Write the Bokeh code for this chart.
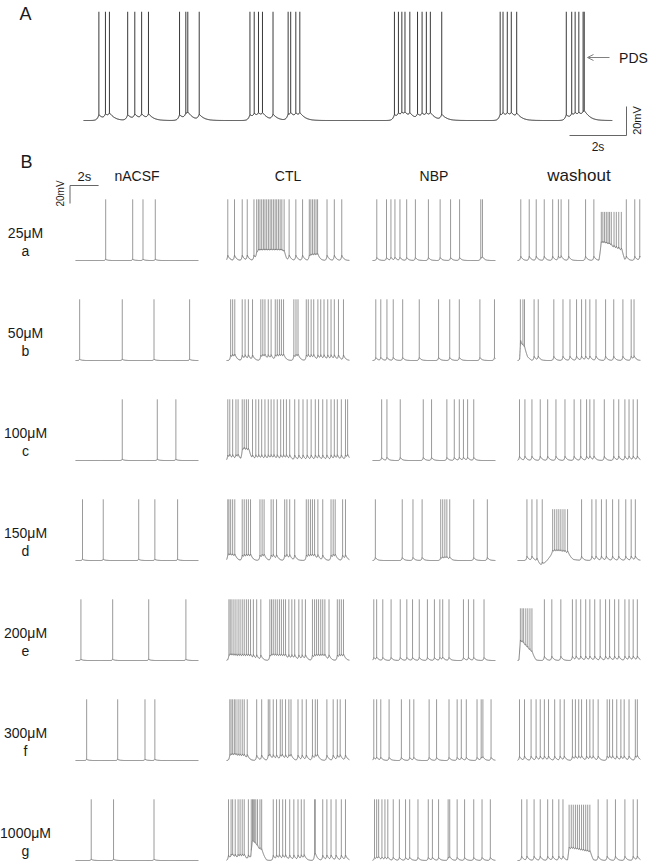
import numpy as np
from bokeh.plotting import figure
from bokeh.models import Range1d, Arrow, OpenHead, Label
from bokeh.embed import file_html
from bokeh.resources import INLINE

# ---------------- data ----------------
conditions = ["nACSF", "CTL", "NBP", "washout"]
concentrations = ["25μM", "50μM", "100μM", "150μM", "200μM", "300μM", "1000μM"]
row_letters = ["a", "b", "c", "d", "e", "f", "g"]

# Panel A: spike times (s)
spikes_A = [0.54, 0.77, 0.91, 1.55, 1.80, 2.04, 2.28, 3.37, 3.59, 3.66, 4.06,
            5.84, 5.99, 6.14, 6.28, 6.65, 7.18, 7.27, 7.45, 7.59,
            10.91, 11.05, 11.17, 11.28, 11.45, 11.72, 11.88, 12.03, 12.17, 12.57,
            14.62, 14.72, 14.87, 15.01, 15.20, 16.94, 17.13, 17.25, 17.38, 17.53, 17.57]

# Panel B: spike times (s) for each concentration row and condition
a_nacsf = [2.11, 4.00, 4.72, 5.58]
a_ctl = [0.09, 0.56, 1.10, 1.45, 1.92, 2.11, 2.23, 2.34, 2.46, 2.58, 2.69, 2.81, 2.93, 3.05, 3.16,
         3.28, 3.40, 3.51, 3.63, 3.75, 3.87, 4.03, 4.38, 4.85, 5.32, 5.79, 5.90, 6.02, 6.14, 6.26,
         6.37, 7.03, 7.54, 8.06]
a_nbp = [0.30, 0.98, 1.29, 1.57, 1.92, 2.39, 3.00, 3.91, 4.73, 5.46, 6.09, 7.57, 7.69]
a_wash = [0.23, 0.82, 1.31, 1.87, 2.46, 2.86, 3.05, 3.58, 4.76, 5.34, 5.86, 5.97, 6.09, 6.21, 6.33,
          6.44, 6.56, 6.75, 6.91, 7.08, 7.26, 7.61, 8.20, 8.55]

b_nacsf = [0.29, 3.27, 5.49, 7.98]
b_ctl = [0.29, 0.43, 0.58, 1.10, 1.30, 1.53, 1.82, 2.40, 2.54, 2.69, 2.92, 3.12, 3.41, 3.55, 3.70,
         3.84, 3.99, 4.71, 4.86, 5.00, 5.58, 5.72, 5.92, 6.10, 6.39, 6.59, 6.82, 7.08, 7.31, 7.54,
         7.83, 8.18]
b_nbp = [0.23, 0.58, 1.01, 1.45, 2.11, 3.27, 4.62, 5.40, 6.07, 7.51, 8.53]
b_wash = [0.20, 0.38, 0.49, 1.16, 1.45, 2.54, 3.18, 3.67, 4.13, 4.48, 4.77, 5.06, 5.49, 6.16, 6.73,
          7.37, 7.95, 8.15]

c_nacsf = [3.27, 5.72, 7.02]
c_ctl = [0.09, 0.23, 0.43, 0.66, 0.81, 1.10, 1.24, 1.39, 1.53, 1.82, 2.05, 2.25, 2.46, 2.69, 2.92,
         3.12, 3.32, 3.55, 3.79, 3.99, 4.19, 4.42, 4.77, 5.06, 5.35, 5.64, 5.92, 6.21, 6.44, 6.73,
         7.02, 7.31, 7.54, 7.75, 8.03, 8.32, 8.47]
c_nbp = [0.64, 1.01, 1.94, 3.55, 4.13, 5.20, 5.72, 6.07, 6.36, 6.65, 7.08]
c_wash = [0.14, 0.52, 1.01, 1.59, 2.11, 2.69, 3.32, 3.96, 4.42, 4.83, 5.06, 5.35, 6.07, 6.73, 7.08,
          7.51, 7.80, 8.09, 8.38]

d_nacsf = [0.49, 1.94, 4.42, 5.55, 7.14]
d_ctl = [0.09, 0.17, 0.29, 0.43, 0.58, 1.10, 1.24, 1.39, 1.53, 1.68, 2.34, 2.49, 2.63, 3.12, 3.27,
         3.50, 4.07, 4.22, 4.42, 4.77, 5.58, 5.72, 5.87, 6.01, 6.16, 6.39, 6.73, 7.31, 7.46, 7.60,
         8.12, 8.32]
d_nbp = [0.20, 2.08, 2.83, 3.47, 4.77, 4.91, 5.06, 5.20, 5.40, 7.08, 8.03]
d_wash = [0.66, 1.01, 1.36, 1.73, 2.46, 2.60, 2.75, 2.89, 3.03, 3.18, 3.32, 3.50, 4.48, 5.20, 5.49,
          5.87, 6.21, 6.65, 7.08, 7.57, 7.95, 8.24]

e_nacsf = [0.38, 2.60, 5.12, 7.72]
e_ctl = [0.17, 0.26, 0.38, 0.52, 0.66, 0.81, 0.95, 1.10, 1.24, 1.39, 1.53, 1.68, 1.88, 2.11, 2.40,
         3.03, 3.15, 3.27, 3.41, 3.55, 3.70, 3.84, 3.99, 4.13, 4.36, 4.57, 4.77, 5.06, 5.29, 5.52,
         6.01, 6.16, 6.30, 6.44, 6.59, 6.73, 6.88, 7.17, 7.75, 7.89, 8.03, 8.18]
e_nbp = [0.09, 0.29, 0.72, 1.30, 1.94, 2.40, 2.80, 3.27, 3.84, 4.33, 4.71, 4.91, 5.35, 6.36, 6.71,
         7.08, 7.80]
e_wash = [0.20, 0.32, 0.43, 0.58, 0.72, 0.87, 1.01, 1.88, 2.40, 3.03, 3.84, 4.10, 4.42, 4.77, 5.06,
          5.40, 5.78, 6.16, 6.44, 6.79, 7.08, 7.51, 7.80, 8.09, 8.38]

f_nacsf = [0.78, 2.95, 4.86, 5.55]
f_ctl = [0.23, 0.32, 0.43, 0.55, 0.66, 0.81, 0.95, 1.10, 1.24, 1.45, 2.11, 2.46, 2.92, 3.03, 3.27,
         3.50, 3.76, 3.90, 4.13, 4.36, 4.51, 5.00, 5.29, 5.58, 6.01, 6.21, 6.36, 7.02, 7.46, 7.75,
         7.95, 8.32]
f_nbp = [0.09, 0.29, 0.58, 1.16, 2.02, 2.60, 2.89, 3.96, 4.48, 5.35, 5.92, 6.21, 6.56, 7.31, 7.60,
         7.72, 8.29]
f_wash = [0.14, 0.49, 0.95, 1.30, 1.59, 1.88, 2.17, 2.60, 2.98, 3.27, 3.84, 4.05, 4.28, 4.48, 4.83,
          5.06, 5.29, 5.64, 6.27, 6.44, 6.65, 6.94, 7.23, 7.46, 7.80, 8.24, 8.38]

g_nacsf = [1.10, 2.66, 5.49]
g_ctl = [0.14, 0.32, 0.43, 0.61, 0.81, 0.95, 1.10, 1.24, 1.53, 1.73, 1.82, 1.88, 1.97, 2.05, 2.17,
         2.34, 2.46, 3.27, 3.50, 3.70, 3.93, 4.13, 4.42, 4.71, 5.00, 5.23, 5.43, 6.16, 6.21, 6.73,
         7.02, 7.31, 7.66, 8.03, 8.32]
g_nbp = [0.14, 0.29, 0.43, 0.66, 0.87, 1.07, 1.45, 1.88, 2.31, 2.60, 3.18, 3.90, 4.19, 4.62, 5.29,
         5.40, 5.92, 6.44, 7.08, 7.66, 8.24]
g_wash = [0.29, 0.66, 1.16, 1.59, 2.11, 2.46, 2.89, 3.18, 3.61, 3.76, 3.90, 4.05, 4.19, 4.33, 4.48,
          4.62, 4.77, 4.91, 5.06, 5.64, 6.27, 6.85, 7.51, 8.09, 8.38]

spike_rows = [
    [a_nacsf, a_ctl, a_nbp, a_wash],
    [b_nacsf, b_ctl, b_nbp, b_wash],
    [c_nacsf, c_ctl, c_nbp, c_wash],
    [d_nacsf, d_ctl, d_nbp, d_wash],
    [e_nacsf, e_ctl, e_nbp, e_wash],
    [f_nacsf, f_ctl, f_nbp, f_wash],
    [g_nacsf, g_ctl, g_nbp, g_wash],
]

# Slow shifts of membrane potential (s, mV)
shift_a_ctl = [(2.0, 0), (2.2, 5), (4.0, 5), (4.2, 0)]
shift_a_wash = [(5.7, 0), (5.85, 16), (7.3, 8), (7.5, 0)]
shift_b_wash = [(0.15, 0), (0.22, 18), (0.7, 3), (1.0, 0)]
shift_c_ctl = [(1.0, 0), (1.15, 8), (1.6, 6), (1.8, 0)]
shift_d_wash = [(1.2, 0), (1.75, -7), (2.4, 7), (3.55, 5), (3.9, 1), (4.5, 0)]
shift_e_wash = [(0.1, 0), (0.2, 18), (1.0, 5), (1.3, 0)]
shift_g_ctl = [(1.7, 0), (1.8, 14), (2.5, 5), (2.8, 0)]
shift_g_wash = [(3.5, 0), (3.6, 10), (5.1, 5), (5.3, 0)]
shifts = {(0, 1): shift_a_ctl, (0, 3): shift_a_wash, (1, 3): shift_b_wash, (2, 1): shift_c_ctl,
          (3, 3): shift_d_wash, (4, 3): shift_e_wash, (6, 1): shift_g_ctl, (6, 3): shift_g_wash}

# Bursts with smaller spikes: (row, column, t start, t end, peak mV)
small_bursts = [(0, 3, 5.8, 7.3, 54), (3, 3, 2.4, 3.6, 57), (4, 3, 0.15, 1.05, 58), (6, 3, 3.55, 5.1, 62)]

# ---------------- layout / style ----------------
FONT = "Liberation Sans"
W, H = 650, 863
A_X0, A_PX_S, A_DUR, A_Y0, A_PX_MV, A_AMP = 83, 28.5, 18.56, 120, 1.45, 75
B_X0 = [75, 226, 372, 517]
B_PX_S, B_DUR, B_PX_MV, B_AMP = 14.3, 8.6, 0.9, 68
B_Y0, B_STEP = 260, 100
HUMP = [1.5, 8.0, 4.0, 6.0]   # after-depolarisation size per condition (mV)
TRACE_B = "#5c5c5c"
SPIKE_B = "#808080"

p = figure(width=W, height=H, output_backend="svg", toolbar_location=None,
           x_range=Range1d(0, W), y_range=Range1d(H, 0),
           x_axis_type=None, y_axis_type=None, min_border=0)
p.outline_line_color = None
p.grid.visible = False
p.background_fill_color = "white"


def membrane(t, spk, hump, tau_pre, tau_post, cap):
    v = np.zeros_like(t)
    for ts in spk:
        d = t - ts
        v += np.where(d < 0, hump * np.exp(np.maximum(d, -50 * tau_pre) / tau_pre),
                      hump * np.exp(-np.minimum(d, 50 * tau_post) / tau_post))
    return cap * (1 - np.exp(-v / cap))


def draw_trace(spk, x0, px_s, y0, px_mv, dur, amp, hump, tau_pre, tau_post, cap,
               shift=None, small=None, base_col="#555", spike_col="#777", lw=0.8):
    t = np.arange(0, dur, 0.005)
    v = membrane(t, spk, hump, tau_pre, tau_post, cap)
    ts = np.array(spk, dtype=float)
    vs = membrane(ts, spk, hump, tau_pre, tau_post, cap)
    if shift:
        kt = [k[0] for k in shift]
        kv = [k[1] for k in shift]
        v = v + np.interp(t, kt, kv, left=0, right=0)
        vs = vs + np.interp(ts, kt, kv, left=0, right=0)
    peaks = np.full_like(ts, amp)
    if small:
        for (t0, t1, pk) in small:
            peaks[(ts >= t0) & (ts <= t1)] = pk
    p.line(x0 + t * px_s, y0 - v * px_mv, line_color=base_col, line_width=lw)
    p.segment(x0 + ts * px_s, y0 - vs * px_mv, x0 + ts * px_s, y0 - peaks * px_mv,
              line_color=spike_col, line_width=lw)


# ---- Panel A ----
draw_trace(spikes_A, A_X0, A_PX_S, A_Y0, A_PX_MV, A_DUR, A_AMP, 5.0, 0.05, 0.15, 10,
           base_col="#111111", spike_col="#222222", lw=0.9)

# ---- Panel B ----
for r, row in enumerate(spike_rows):
    y0 = B_Y0 + r * B_STEP
    for c, spk in enumerate(row):
        small = [(b[2], b[3], b[4]) for b in small_bursts if b[0] == r and b[1] == c]
        draw_trace(spk, B_X0[c], B_PX_S, y0, B_PX_MV, B_DUR, B_AMP, HUMP[c], 0.04, 0.12, 12,
                   shift=shifts.get((r, c)), small=small, base_col=TRACE_B, spike_col=SPIKE_B, lw=0.8)


def label(x, y, text, size, angle=0, color="#1a1a1a", align="center"):
    p.add_layout(Label(x=x, y=y, text=text, text_font=FONT, text_font_size=size,
                       text_align=align, text_baseline="middle", angle=angle,
                       text_color=color))


# panel letters
label(25, 13, "A", "18px")
label(26, 161, "B", "18px")

# PDS arrow
p.add_layout(Arrow(end=OpenHead(size=6, line_color="#808080", line_width=1),
                   x_start=609, y_start=57, x_end=587, y_end=57,
                   line_color="#808080", line_width=1))
label(633, 57, "PDS", "14px")

# scale bar A
ax_end = 626
p.line([ax_end - 2 * A_PX_S, ax_end, ax_end], [135, 135, 135 - 20 * A_PX_MV],
       line_color="#666666", line_width=1)
label(ax_end - A_PX_S, 146, "2s", "12px")
label(636, 120, "20mV", "11px", angle=np.pi / 2)

# scale bar B
bx = 69.5
p.line([bx, bx, bx + 2 * B_PX_S], [185 + 20 * B_PX_MV, 185, 185],
       line_color="#666666", line_width=1)
label(bx + B_PX_S, 176, "2s", "13px")
label(60, 193, "20mV", "10px", angle=np.pi / 2)

# column headers
header_sizes = ["14px", "14px", "14px", "17px"]
for c, name in enumerate(conditions):
    label(B_X0[c] + B_DUR * B_PX_S / 2, 175, name, header_sizes[c])

# row labels
for r in range(len(concentrations)):
    label(25, 232 + r * B_STEP, concentrations[r], "14px")
    label(25, 250 + r * B_STEP, row_letters[r], "14px")

open("out.html", "w").write(file_html(p, INLINE))
